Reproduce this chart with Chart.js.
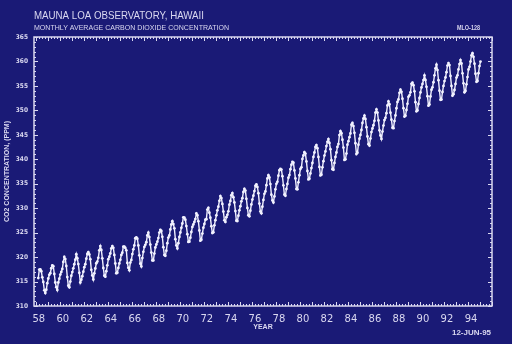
<!DOCTYPE html>
<html>
<head>
<meta charset="utf-8">
<script src="https://cdn.jsdelivr.net/npm/chart.js@4.4.1/dist/chart.umd.min.js"></script>
<style>
    html, body { margin: 0; padding: 0; background: #1a1a76; }
    #wrap { position: relative; width: 512px; height: 344px; }
</style>
</head>
<body>
<div id="wrap"><canvas id="co2"></canvas></div>
<script>
// Mauna Loa monthly mean CO2 (ppm), starting March 1958
const FIRST_YEAR = 1958, FIRST_MONTH = 3;
const co2Monthly = [
    /*1958*/ 315.71, 317.45, 317.50, 317.10, 315.86, 314.93, 313.20, 312.66, 313.33, 314.67,
    /*1959*/ 315.62, 316.38, 316.71, 317.72, 318.29, 318.15, 316.54, 314.80, 313.84, 313.26, 314.80, 315.58,
    /*1960*/ 316.43, 316.97, 317.58, 319.02, 320.03, 319.59, 318.18, 315.91, 314.16, 313.83, 315.00, 316.19,
    /*1961*/ 316.93, 317.70, 318.54, 319.48, 320.58, 319.77, 318.57, 316.79, 314.80, 315.38, 316.10, 317.01,
    /*1962*/ 317.94, 318.56, 319.68, 320.63, 321.01, 320.55, 319.58, 317.40, 316.26, 315.42, 316.69, 317.69,
    /*1963*/ 318.74, 319.08, 319.86, 321.39, 322.25, 321.47, 319.74, 317.77, 316.21, 315.99, 317.12, 318.31,
    /*1964*/ 319.57, 320.07, 320.73, 321.77, 322.25, 321.89, 320.44, 318.70, 316.70, 316.79, 317.79, 318.71,
    /*1965*/ 319.44, 320.44, 320.89, 322.13, 322.16, 321.87, 321.39, 318.81, 317.81, 317.30, 318.87, 319.42,
    /*1966*/ 320.62, 321.59, 322.39, 323.87, 324.01, 323.75, 322.39, 320.37, 318.64, 318.10, 319.79, 321.08,
    /*1967*/ 322.07, 322.50, 323.04, 324.42, 325.00, 324.09, 322.55, 320.92, 319.31, 319.31, 320.72, 321.96,
    /*1968*/ 322.57, 323.15, 323.89, 325.02, 325.57, 325.36, 324.14, 322.03, 320.41, 320.25, 321.31, 322.84,
    /*1969*/ 324.00, 324.42, 325.64, 326.66, 327.34, 326.76, 325.88, 323.67, 322.38, 321.78, 322.85, 324.11,
    /*1970*/ 325.03, 325.99, 326.87, 328.13, 328.07, 327.66, 326.35, 324.69, 323.10, 323.16, 323.98, 325.13,
    /*1971*/ 326.17, 326.68, 327.18, 327.78, 328.92, 328.57, 327.34, 325.46, 323.36, 323.57, 324.80, 326.01,
    /*1972*/ 326.77, 327.63, 327.75, 329.72, 330.07, 329.09, 328.05, 326.32, 324.93, 325.06, 326.50, 327.55,
    /*1973*/ 328.54, 329.56, 330.30, 331.50, 332.48, 332.07, 330.87, 329.31, 327.51, 327.18, 328.16, 328.64,
    /*1974*/ 329.35, 330.71, 331.48, 332.65, 333.09, 332.25, 331.18, 329.40, 327.43, 327.37, 328.46, 329.57,
    /*1975*/ 330.40, 331.40, 332.04, 333.31, 333.96, 333.59, 331.91, 330.06, 328.56, 328.34, 329.49, 330.76,
    /*1976*/ 331.75, 332.56, 333.50, 334.58, 334.87, 334.34, 333.05, 330.94, 329.30, 328.94, 330.31, 331.68,
    /*1977*/ 332.93, 333.42, 334.70, 336.07, 336.74, 336.27, 334.93, 332.75, 331.58, 331.16, 332.40, 333.85,
    /*1978*/ 334.97, 335.39, 336.64, 337.76, 338.01, 337.89, 336.54, 334.68, 332.76, 332.54, 333.92, 334.95,
    /*1979*/ 336.23, 336.76, 337.96, 338.89, 339.47, 339.29, 337.73, 336.09, 333.91, 333.86, 335.29, 336.73,
    /*1980*/ 338.01, 338.36, 340.08, 340.77, 341.46, 341.17, 339.56, 337.60, 335.88, 336.01, 337.10, 338.21,
    /*1981*/ 339.24, 340.48, 341.38, 342.51, 342.91, 342.25, 340.49, 338.43, 336.69, 336.85, 338.36, 339.61,
    /*1982*/ 340.75, 341.61, 342.70, 343.56, 344.13, 343.35, 342.06, 339.82, 337.97, 337.86, 339.26, 340.49,
    /*1983*/ 341.38, 342.52, 343.10, 344.94, 345.75, 345.32, 343.99, 342.39, 339.86, 339.99, 341.16, 342.99,
    /*1984*/ 343.70, 344.51, 345.28, 347.08, 347.43, 346.79, 345.40, 343.28, 341.07, 341.35, 342.98, 344.22,
    /*1985*/ 344.97, 345.99, 347.42, 348.35, 348.93, 348.25, 346.56, 344.67, 343.09, 342.80, 344.24, 345.56,
    /*1986*/ 346.29, 346.96, 347.86, 349.55, 350.21, 349.54, 347.94, 345.91, 344.86, 344.17, 345.66, 346.90,
    /*1987*/ 348.02, 348.47, 349.42, 350.99, 351.84, 351.25, 349.52, 348.10, 346.44, 346.36, 347.81, 348.96,
    /*1988*/ 350.43, 351.72, 352.22, 353.59, 354.22, 353.79, 352.39, 350.44, 348.72, 348.88, 350.07, 351.34,
    /*1989*/ 352.76, 353.07, 353.68, 355.42, 355.67, 355.13, 353.90, 351.67, 349.80, 349.99, 351.30, 352.53,
    /*1990*/ 353.66, 354.70, 355.39, 356.20, 357.16, 356.22, 354.82, 352.91, 350.96, 351.18, 352.83, 354.21,
    /*1991*/ 354.72, 355.75, 357.16, 358.60, 359.34, 358.24, 356.17, 354.02, 352.15, 352.21, 353.75, 354.99,
    /*1992*/ 355.99, 356.72, 357.81, 359.15, 359.66, 359.25, 357.03, 355.00, 353.01, 353.31, 354.16, 355.40,
    /*1993*/ 356.70, 357.16, 358.38, 359.46, 360.28, 359.60, 357.57, 355.52, 353.70, 353.98, 355.33, 356.80,
    /*1994*/ 358.36, 358.91, 359.97, 361.26, 361.68, 360.95, 359.55, 357.49, 355.84, 356.00, 357.59, 359.05,
    /*1995*/ 359.98
];
const yearTicks = [58, 60, 62, 64, 66, 68, 70, 72, 74, 76, 78, 80, 82, 84, 86, 88, 90, 92, 94];
const ppmTicks = [310, 315, 320, 325, 330, 335, 340, 345, 350, 355, 360, 365];

const TITLE = 'MAUNA LOA OBSERVATORY, HAWAII';
const SUBTITLE = 'MONTHLY AVERAGE CARBON DIOXIDE CONCENTRATION';
const STATION = 'MLO-128';
const PLOT_DATE = '12-JUN-95';

const TXT = '#dad8f0';
const LINE = '#f2f2ff';

// draw text squeezed/stretched to a measured width, like the plotter lettering
function fitText(ctx, text, x, y, width, font, align) {
    ctx.font = font;
    const w = ctx.measureText(text).width;
    ctx.save();
    ctx.translate(align === 'right' ? x - width : x, y);
    ctx.scale(width / w, 1);
    ctx.textAlign = 'left';
    ctx.textBaseline = 'middle';
    ctx.fillText(text, 0, 0);
    ctx.restore();
}

const headerPlugin = {
    id: 'header',
    afterDraw(chart) {
        const ctx = chart.ctx;
        ctx.save();
        ctx.fillStyle = TXT;
        fitText(ctx, TITLE, 34, 16, 170, '11.5px "Liberation Sans"');
        fitText(ctx, SUBTITLE, 34, 28, 195, '8px "Liberation Sans"');
        fitText(ctx, STATION, 480, 28, 23, 'bold 7.5px "Liberation Sans"', 'right');
        fitText(ctx, PLOT_DATE, 491, 333, 39, 'bold 7.5px "Liberation Sans"', 'right');
        ctx.restore();
    }
};

// box round the plot with inward tick marks on all four sides
const framePlugin = {
    id: 'frame',
    afterDatasetsDraw(chart) {
        const { ctx, chartArea: a, scales: { x, y } } = chart;
        ctx.save();
        ctx.strokeStyle = TXT;
        ctx.lineWidth = 1.5;
        ctx.strokeRect(a.left, a.top, a.right - a.left, a.bottom - a.top);
        ctx.lineWidth = 1;
        ctx.beginPath();
        for (let q = Math.ceil(x.min * 4); q <= x.max * 4; q++) {
            const px = Math.round(x.getPixelForValue(q / 4)) + 0.5;
            const len = q % 4 === 0 ? 4 : 2;
            ctx.moveTo(px, a.bottom); ctx.lineTo(px, a.bottom - len);
            ctx.moveTo(px, a.top); ctx.lineTo(px, a.top + len);
        }
        for (let v = y.min; v <= y.max; v++) {
            const py = Math.round(y.getPixelForValue(v)) + 0.5;
            const len = v % 5 === 0 ? 4 : 2;
            ctx.moveTo(a.left, py); ctx.lineTo(a.left + len, py);
            ctx.moveTo(a.right, py); ctx.lineTo(a.right - len, py);
        }
        ctx.stroke();
        ctx.restore();
    }
};

const points = co2Monthly.map((v, i) => ({
    x: FIRST_YEAR - 1900 + (FIRST_MONTH - 1 + i + 0.5) / 12,
    y: v
}));

new Chart(document.getElementById('co2'), {
    type: 'line',
    data: {
        datasets: [{
            data: points,
            borderColor: LINE,
            borderWidth: 1.4,
            pointRadius: 1.4,
            pointBackgroundColor: LINE,
            pointBorderWidth: 0,
            tension: 0
        }]
    },
    options: {
        responsive: true,
        maintainAspectRatio: false,
        animation: false,
        layout: { padding: { top: 37, right: 20, left: 0, bottom: 0 } },
        plugins: { legend: { display: false }, tooltip: { enabled: false } },
        scales: {
            x: {
                type: 'linear', min: 57.85, max: 96,
                afterBuildTicks: s => { s.ticks = yearTicks.map(v => ({ value: v })); },
                afterFit: s => { s.height = 38; },
                ticks: { color: TXT, font: { family: 'DejaVu Sans', size: 10 }, padding: 7, labelOffset: 3, maxRotation: 0, autoSkip: false },
                grid: { display: false, drawTicks: false },
                border: { display: false },
                title: { display: true, text: 'YEAR', color: TXT, font: { family: 'Liberation Sans', size: 7, weight: 'bold' }, padding: { top: 0, bottom: 13 } }
            },
            y: {
                min: 310, max: 365,
                afterBuildTicks: s => { s.ticks = ppmTicks.map(v => ({ value: v })); },
                afterFit: s => { s.width = 34; },
                ticks: { color: TXT, font: { family: 'DejaVu Sans Condensed', size: 6.5, weight: 'bold' }, padding: 6 },
                grid: { display: false, drawTicks: false },
                border: { display: false },
                title: { display: true, text: 'CO2 CONCENTRATION, (PPM)', color: TXT, font: { family: 'Liberation Sans', size: 7, weight: 'bold' }, padding: { top: 3, bottom: 0 } }
            }
        }
    },
    plugins: [framePlugin, headerPlugin]
});
</script>
</body>
</html>
